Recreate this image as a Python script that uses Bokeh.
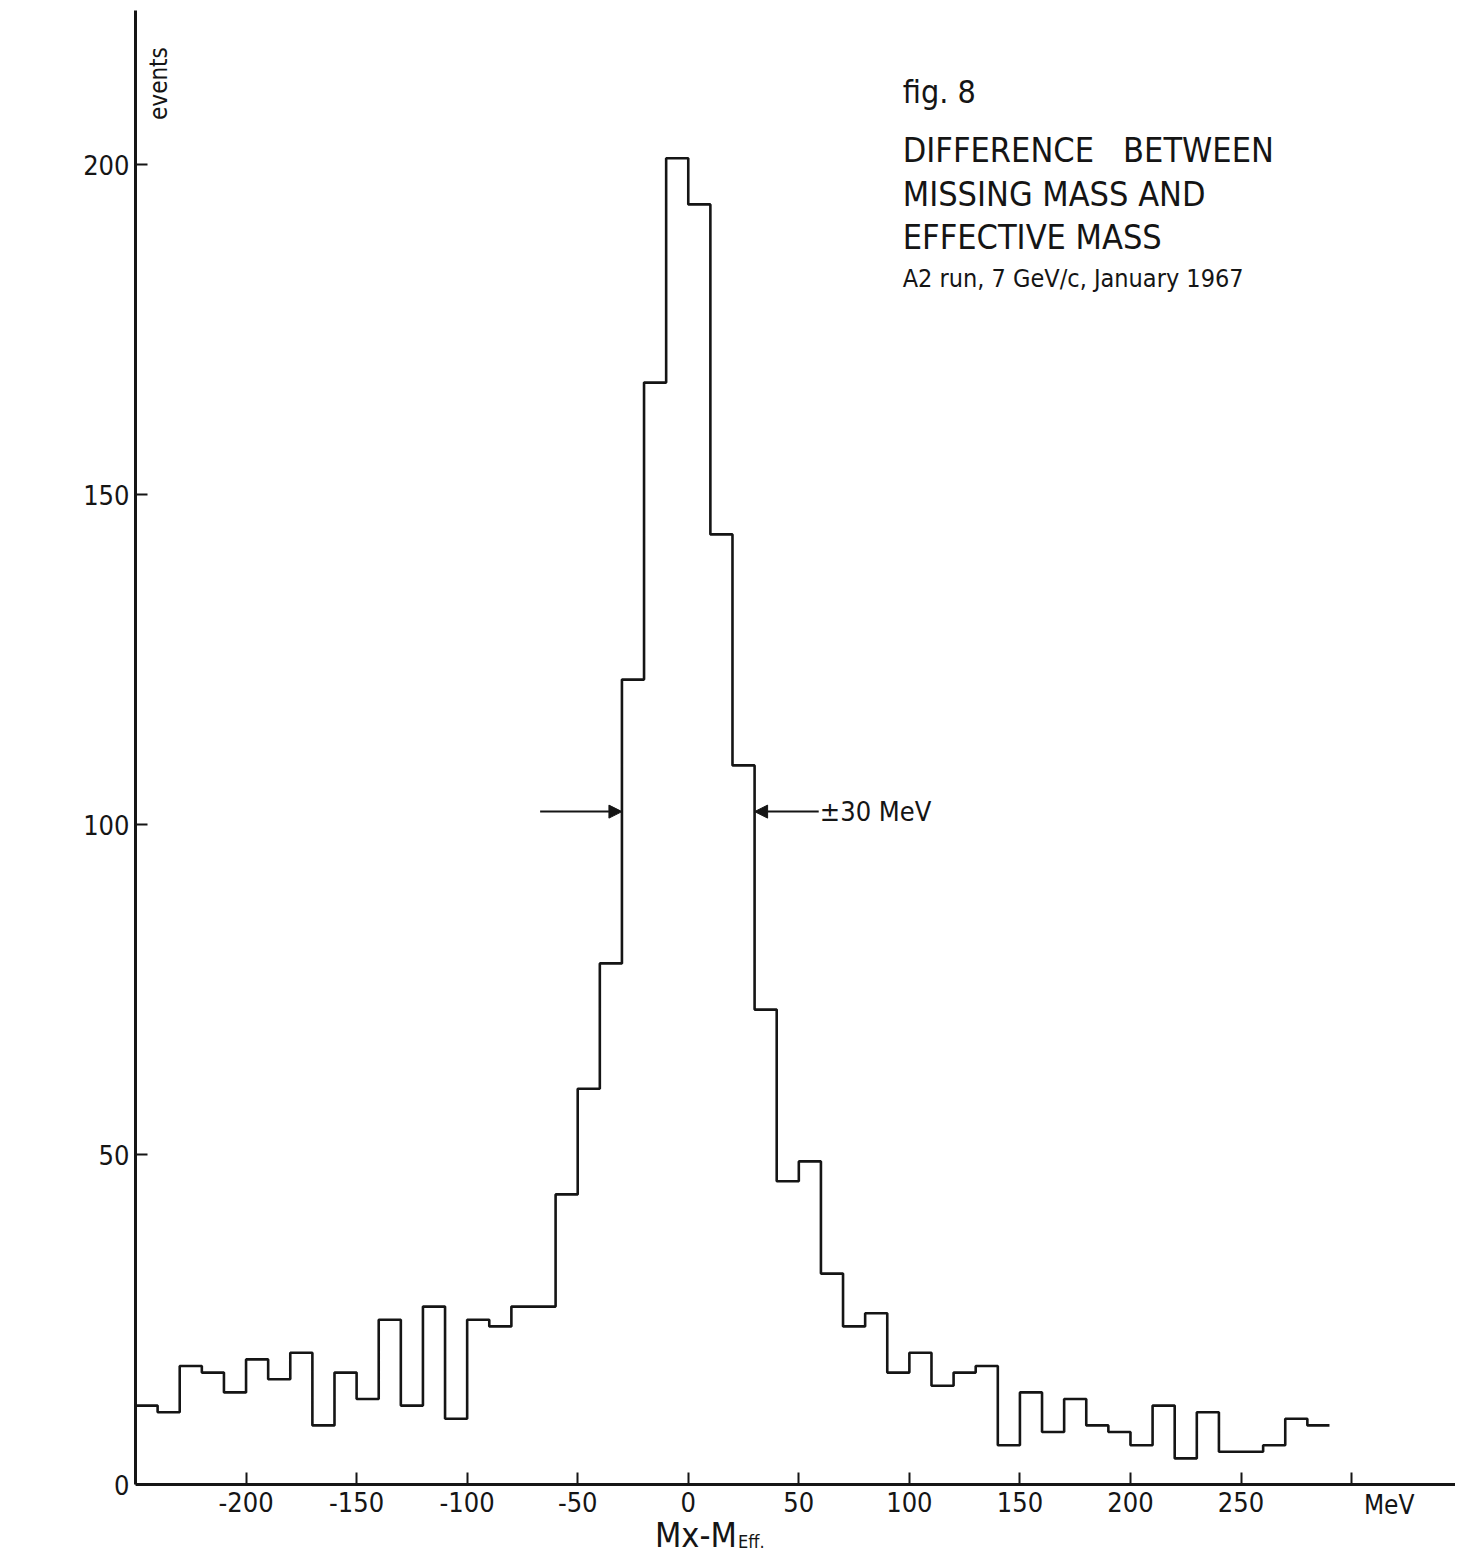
import numpy as np
from bokeh.plotting import figure
from bokeh.models import Label, Arrow, NormalHead, FixedTicker, Range1d
from bokeh.embed import file_html
from bokeh.resources import INLINE

# ---- data (10 MeV bins, left edges) ----
bin_left = list(range(-250, 290, 10))
counts = [12, 11, 18, 17, 14, 19, 16, 20, 9, 17,
          13, 25, 12, 27, 10, 25, 24, 27, 27, 44,
          60, 79, 122, 167, 201, 194, 144, 109, 72, 46,
          49, 32, 24, 26, 17, 20, 15, 17, 18, 6,
          14, 8, 13, 9, 8, 6, 12, 4, 11, 5,
          5, 6, 10, 9]
bin_width = 10
x_ticks = [-200, -150, -100, -50, 0, 50, 100, 150, 200, 250, 300]
x_tick_labels = ["-200", "-150", "-100", "-50", "0", "50", "100", "150", "200", "250", ""]
y_ticks = [0, 50, 100, 150, 200]
y_tick_labels = ["0", "50", "100", "150", "200"]
title_lines = ["DIFFERENCE\u00a0\u00a0 BETWEEN", "MISSING MASS AND", "EFFECTIVE MASS"]
fig_label = "fig. 8"
subtitle = "A2 run, 7 GeV/c, January 1967"
fwhm_text = "\u00b130 MeV"
fwhm_level = 102
fwhm_half = 30

FONT = "DejaVu Sans Condensed"
INK = "#151515"

Y_TOP = 223.38
p = figure(width=1455, height=1555, output_backend="svg", toolbar_location=None,
           x_range=Range1d(-250, 347), y_range=Range1d(-10.71, Y_TOP),
           min_border_left=135, min_border_right=0, min_border_top=10,
           min_border_bottom=0)
p.outline_line_color = None
p.grid.visible = False
p.background_fill_color = "white"
p.border_fill_color = "white"

# histogram outline
xs = bin_left + [bin_left[-1] + bin_width]
ys = counts + [counts[-1]]
p.step(xs, ys, mode="after", line_color=INK, line_width=2.6)

# axes
for ax in (p.xaxis[0], p.yaxis[0]):
    ax.axis_line_width = 3
    ax.axis_line_color = INK
    ax.major_tick_line_color = INK
    ax.major_tick_line_width = 2
    ax.major_tick_in = 12
    ax.major_tick_out = 0
    ax.minor_tick_line_color = None
    ax.major_label_text_font = FONT
    ax.major_label_text_font_size = "27px"
    ax.major_label_text_color = INK

p.xaxis.fixed_location = 0
p.xaxis.ticker = FixedTicker(ticks=x_ticks)
p.xaxis.major_label_overrides = {t: l for t, l in zip(x_ticks, x_tick_labels)}
p.xaxis.major_label_standoff = 7
p.yaxis.ticker = FixedTicker(ticks=y_ticks)
p.yaxis.major_label_overrides = {t: l for t, l in zip(y_ticks, y_tick_labels)}
p.yaxis.major_label_standoff = 6
p.yaxis.bounds = (0, Y_TOP)

def put(x, y, text, size, align="left", angle=0.0):
    p.add_layout(Label(x=x, y=y, text=text, angle=angle, text_align=align,
                       text_baseline="middle", text_font=FONT,
                       text_font_size=size, text_color=INK))

# axis titles
put(-239.5, 206.8, "events", "24px", angle=np.pi / 2)
put(317, -3.0, "MeV", "26px", align="center")
put(22, -7.6, "Mx-M", "34px", align="right")
put(22.5, -8.6, "Eff.", "18px")

# title block
put(97, 211.1, fig_label, "32px")
for txt, yy in zip(title_lines, [202.2, 195.6, 189.1]):
    put(97, yy, txt, "34px")
put(97, 182.8, subtitle, "25px")

# FWHM arrows
p.add_layout(Arrow(x_start=-67, y_start=fwhm_level, x_end=-fwhm_half, y_end=fwhm_level,
                   line_color=INK, line_width=2,
                   end=NormalHead(size=13, fill_color=INK, line_color=INK)))
p.add_layout(Arrow(x_start=59, y_start=fwhm_level, x_end=fwhm_half, y_end=fwhm_level,
                   line_color=INK, line_width=2,
                   end=NormalHead(size=13, fill_color=INK, line_color=INK)))
put(59.5, fwhm_level, fwhm_text, "27px")

open("out.html", "w").write(file_html(p, INLINE))
